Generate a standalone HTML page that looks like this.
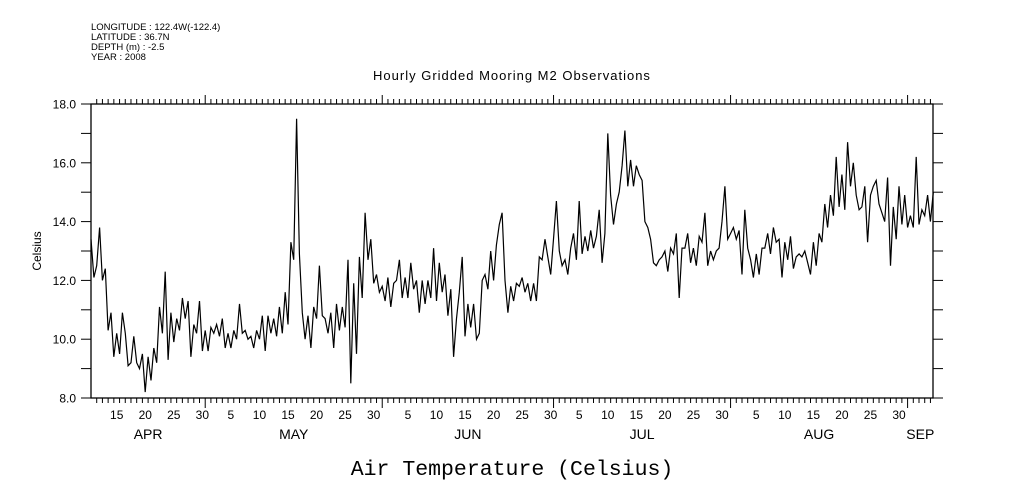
<!DOCTYPE html>
<html><head><meta charset="utf-8"><style>
body{margin:0;background:#fff;}
svg{display:block;font-family:"Liberation Sans",sans-serif;}
</style></head><body>
<svg id="chart" width="1009" height="504" xmlns="http://www.w3.org/2000/svg">
<rect width="1009" height="504" fill="#fff"/>
<g font-size="9.5" fill="#000">
<text x="91" y="30">LONGITUDE : 122.4W(-122.4)</text>
<text x="91" y="40">LATITUDE : 36.7N</text>
<text x="91" y="50">DEPTH (m) : -2.5</text>
<text x="91" y="60">YEAR : 2008</text>
</g>
<text x="512" y="80" font-size="13" letter-spacing="1" text-anchor="middle">Hourly Gridded Mooring M2 Observations</text>
<text x="0" y="0" font-size="12" text-anchor="middle" transform="translate(41,251) rotate(-90)">Celsius</text>
<text x="512" y="475" font-size="21.5" text-anchor="middle" font-family="Liberation Mono, monospace">Air Temperature (Celsius)</text>
<g id="axes"></g>
<g id="series"></g>
</svg>
<script>
const startDay = 0;
const stepDays = 0.5;
const temps = [13.4,12.1,12.5,13.8,12.0,12.4,10.3,10.9,9.4,10.2,9.5,10.9,10.2,9.1,9.2,10.1,9.2,9.0,9.5,8.2,9.4,8.6,9.7,9.2,11.1,10.2,12.3,9.3,10.9,9.9,10.7,10.3,11.4,10.7,11.3,9.4,10.5,10.2,11.3,9.6,10.3,9.6,10.4,10.2,10.5,10.1,10.7,9.7,10.2,9.7,10.3,10.0,11.2,10.2,10.3,10.0,10.1,9.7,10.3,10.0,10.8,9.6,10.8,10.2,10.7,10.1,11.1,10.2,11.6,10.5,13.3,12.7,17.5,12.9,10.9,10.0,
10.8,9.7,11.1,10.7,12.5,10.8,10.7,10.2,10.9,9.7,11.2,10.3,11.1,10.4,12.7,8.5,11.9,9.5,12.8,11.4,14.3,12.7,13.4,11.9,12.2,11.6,11.8,11.3,12.1,11.1,11.9,12.0,12.7,11.4,12.1,11.4,12.6,11.7,12.0,10.9,12.0,11.2,12.0,11.4,13.1,11.3,12.6,11.6,12.2,10.8,11.7,9.4,10.7,11.6,12.8,10.1,11.2,10.4,11.2,10.0,10.2,12.0,12.2,11.7,13.0,12.0,13.2,13.9,14.3,12.0,10.9,11.8,11.3,11.9,
11.8,12.1,11.6,11.9,11.3,11.9,11.3,12.8,12.7,13.4,12.8,12.2,13.4,14.7,13.0,12.5,12.7,12.2,13.1,13.6,12.7,14.7,12.9,13.5,13.0,13.7,13.1,13.5,14.4,12.6,13.6,17.0,14.9,13.9,14.6,15.0,15.9,17.1,15.2,16.1,15.2,15.9,15.6,15.4,14.0,13.8,13.4,12.6,12.5,12.7,12.8,13.0,12.3,13.1,12.9,13.6,11.4,13.1,13.1,13.6,12.6,13.1,12.5,13.5,13.3,14.3,12.5,13.0,12.7,13.0,13.1,14.0,15.2,13.4,
13.6,13.8,13.4,13.7,12.2,14.4,13.1,12.7,12.1,12.9,12.2,13.1,13.1,13.6,12.9,13.8,13.3,13.4,12.1,13.3,12.7,13.5,12.4,12.8,12.9,12.8,13.0,12.6,12.2,13.3,12.5,13.6,13.3,14.6,13.8,14.9,14.2,16.2,14.5,15.6,14.4,16.7,15.2,16.0,14.9,14.4,14.5,15.2,13.3,14.9,15.2,15.4,14.6,14.3,14.0,15.5,12.5,14.5,13.4,15.2,13.9,14.9,13.8,14.2,13.8,16.2,13.9,14.4,14.2,14.9,14.0,15.0];
const yTicks = [8,10,12,14,16,18];
const yTickLabels = ["8.0","10.0","12.0","14.0","16.0","18.0"];
const monthStarts = [0,20,51,81,112,143];
const monthNames = ["APR","MAY","JUN","JUL","AUG","SEP"];
const monthFirstDay = [11,1,1,1,1,1];
const dayLabels = [5,10,15,20,25,30];

const L=91,R=933,T=104,B=398,DAYS=147.45,YMIN=8,YMAX=18;
const pxPerDay=(R-L)/DAYS;
function xs(d){return L+d*pxPerDay;}
function ys(v){return B-(v-YMIN)/(YMAX-YMIN)*(B-T);}
const NS="http://www.w3.org/2000/svg";
function mk(tag,attrs,parent,txt){const e=document.createElementNS(NS,tag);for(const k in attrs)e.setAttribute(k,attrs[k]);if(txt!==undefined)e.textContent=txt;parent.appendChild(e);return e;}
const ax=document.getElementById('axes');
const frame=mk('rect',{x:L,y:T,width:R-L,height:B-T,fill:'none',stroke:'#000','stroke-width':1.3},ax);


for(let v=YMIN;v<=YMAX;v++){
  const y=ys(v);
  const tl=mk('line',{x1:L-10,x2:L,y1:y,y2:y,stroke:'#000'},ax);
  
  
  const tr=mk('line',{x1:R,x2:R+10,y1:y,y2:y,stroke:'#000'},ax);
  
  
}
yTicks.forEach((v,i)=>{
  const t=mk('text',{x:L-15,y:ys(v)+4.5,'font-size':12,'text-anchor':'end'},ax,yTickLabels[i]);
  
  
});
for(let d=1;d<DAYS;d++){
  const isMonth=monthStarts.includes(d);
  const x=xs(d);
  const tb=mk('line',{x1:x,x2:x,y1:B,y2:B+(isMonth?10:5),stroke:'#000'},ax);
  
  
  const tt=mk('line',{x1:x,x2:x,y1:T,y2:T-(isMonth?9:5),stroke:'#000'},ax);
  
  
}
monthStarts.forEach((s,mi)=>{
  const end=mi<monthStarts.length-1?monthStarts[mi+1]:DAYS;
  dayLabels.forEach(dl=>{
    const d=s+(dl-monthFirstDay[mi]);
    if(d>=0&&d<end&&d+0.5<DAYS-2){
      const t=mk('text',{x:xs(d+0.5),y:419,'font-size':12,'text-anchor':'middle'},ax,String(dl));
      
      
    }
  });
  const m=mk('text',{x:xs((s+end)/2),y:439,'font-size':14,'text-anchor':'middle'},ax,monthNames[mi]);
  
  
});
const pts=temps.map((v,i)=>xs(startDay+i*stepDays).toFixed(1)+','+ys(v).toFixed(1)).join(' ');
const line=mk('polyline',{points:pts,fill:'none',stroke:'#000','stroke-width':1.2,'stroke-linejoin':'miter'},document.getElementById('series'));


</script>
</body></html>
